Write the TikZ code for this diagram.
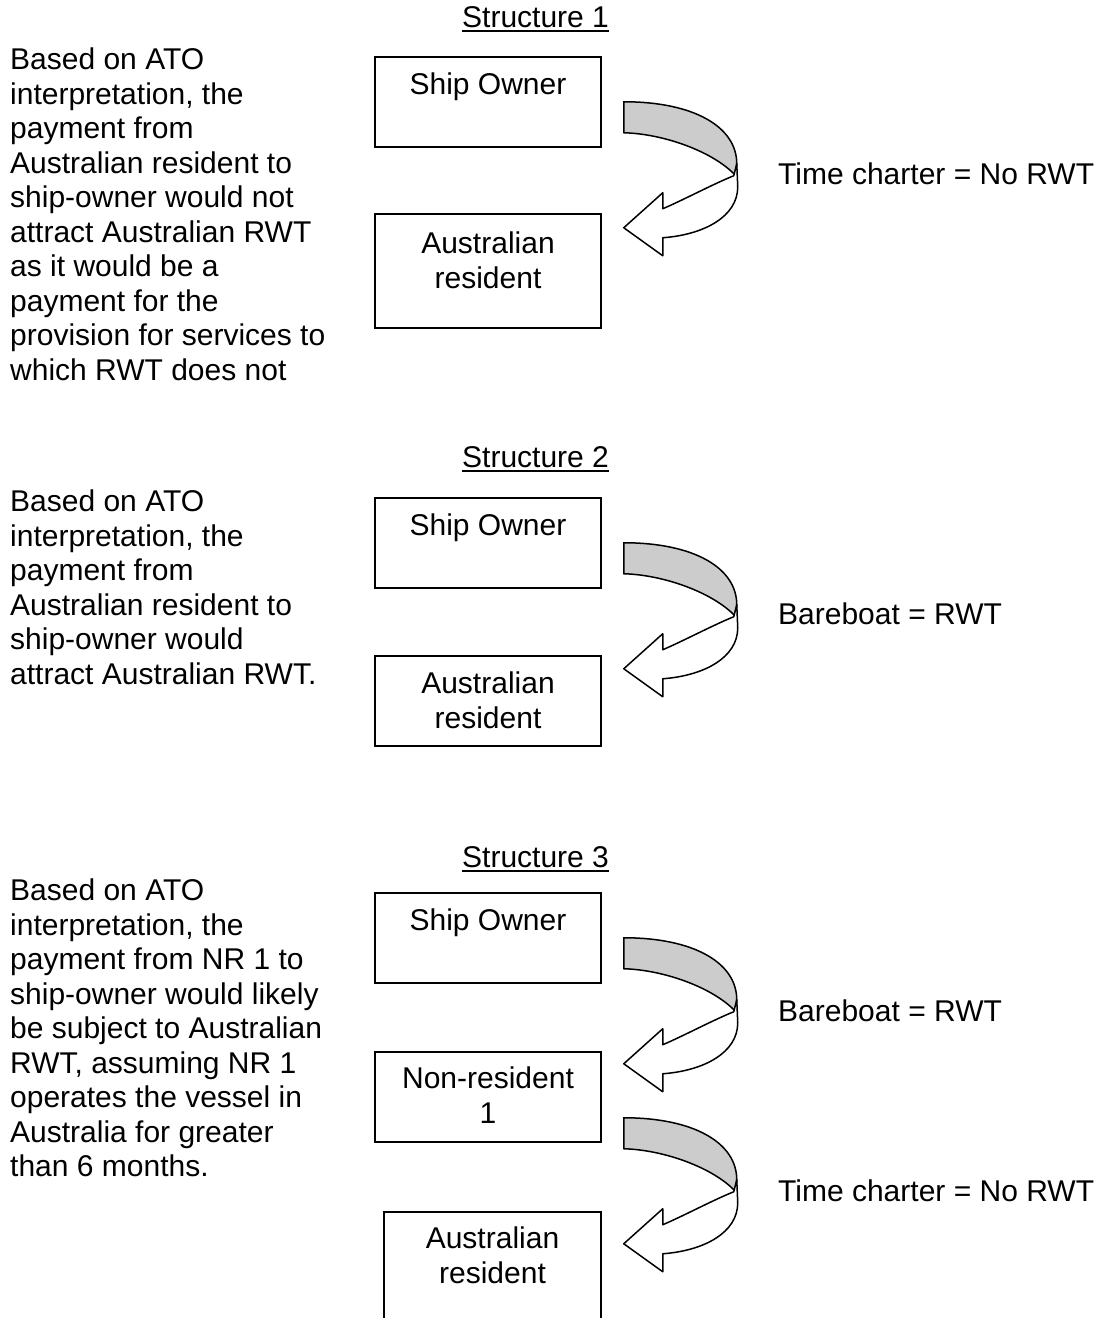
\documentclass[tikz,border=0pt]{standalone}
\usepackage{fontspec}
\setmainfont{Liberation Sans}
\usetikzlibrary{positioning}

\begin{document}
\begin{tikzpicture}[x=1pt, y=-1pt,
        every node/.style={font=\fontsize{30pt}{34.5pt}\selectfont, inner sep=0pt},
        party/.style={draw, line width=1.5pt, minimum width=226pt, align=center,
            text height=38pt, text depth=52pt, anchor=north},
        note/.style={align=left, anchor=north west},
        heading/.style={anchor=base west},
        % curved block arrow: grey back face, white front face with head
        turn/.pic={
            \filldraw[fill=gray!40, line width=1.5pt, line join=round]
                (0,0) .. controls (70,0) and (113,25) .. (113,62) -- (112,74)
                .. controls (90,50) and (40,32) .. (0,31) -- cycle;
            \filldraw[fill=white, line width=1.5pt, line join=round]
                (110,74) .. controls (90,82) and (60,98) .. (39,107) -- (39,91)
                -- (0,126) -- (39,154) -- (39,136)
                .. controls (80,133) and (114,115) .. (114,85) -- (113,62) -- cycle;
        }]
    \clip (0,0) rectangle (1101,1318);

    % Structure 1
    \begin{scope}
        \node[heading] (t1) at (462,27) {Structure 1};
        \draw[line width=2.5pt] ([yshift=-4pt]t1.base west) -- ([yshift=-4pt]t1.base east);
        \node[party] (so1) at (488,56) {Ship Owner};
        \node[party, text height=74.5pt, text depth=39.5pt] (ar1) at (488,213) {Australian\\resident};
        \pic at ([xshift=22pt]so1.east) {turn}; % payment arrow
        \node[heading] (lb1) at (778,184) {Time charter = No RWT};
        \node[note] (n1) at (10,48) {Based on ATO\\interpretation, the\\payment from\\Australian resident to\\ship-owner would not\\attract Australian RWT\\as it would be a\\payment for the\\provision for services to\\which RWT does not};
    \end{scope}

    % Structure 2
    \begin{scope}[shift={(0,440)}]
        \node[heading] (t2) at (462,27) {Structure 2};
        \draw[line width=2.5pt] ([yshift=-4pt]t2.base west) -- ([yshift=-4pt]t2.base east);
        \node[party] (so2) at (488,57) {Ship Owner};
        \node[party, text height=72.5pt, text depth=17.5pt] (ar2) at (488,215) {Australian\\resident};
        \pic at ([xshift=22pt]so2.east) {turn}; % payment arrow
        \node[heading] (lb2) at (778,184) {Bareboat = RWT};
        \node[note] (n2) at (10,50) {Based on ATO\\interpretation, the\\payment from\\Australian resident to\\ship-owner would\\attract Australian RWT.};
    \end{scope}

    % Structure 3
    \begin{scope}[shift={(0,836)}]
        \node[heading] (t3) at (462,31) {Structure 3};
        \draw[line width=2.5pt] ([yshift=-4pt]t3.base west) -- ([yshift=-4pt]t3.base east);
        \node[party] (so3) at (488,56) {Ship Owner};
        \node[party, text height=71.5pt, text depth=18.5pt] (nr3) at (488,215) {Non-resident\\1};
        \node[party, minimum width=217pt, text height=71.5pt, text depth=90pt] (ar3) at (492.5,375) {Australian\\resident};
        \pic at ([xshift=22pt]so3.east) {turn}; % charter to NR 1
        \pic at ([xshift=22pt, yshift=-21pt]nr3.east) {turn}; % sub-charter
        \node[heading] (lb3) at (778,185) {Bareboat = RWT};
        \node[heading] (lb4) at (778,365) {Time charter = No RWT};
        \node[note] (n3) at (10,43) {Based on ATO\\interpretation, the\\payment from NR 1 to\\ship-owner would likely\\be subject to Australian\\RWT, assuming NR 1\\operates the vessel in\\Australia for greater\\than 6 months.};
    \end{scope}
\end{tikzpicture}
\end{document}
